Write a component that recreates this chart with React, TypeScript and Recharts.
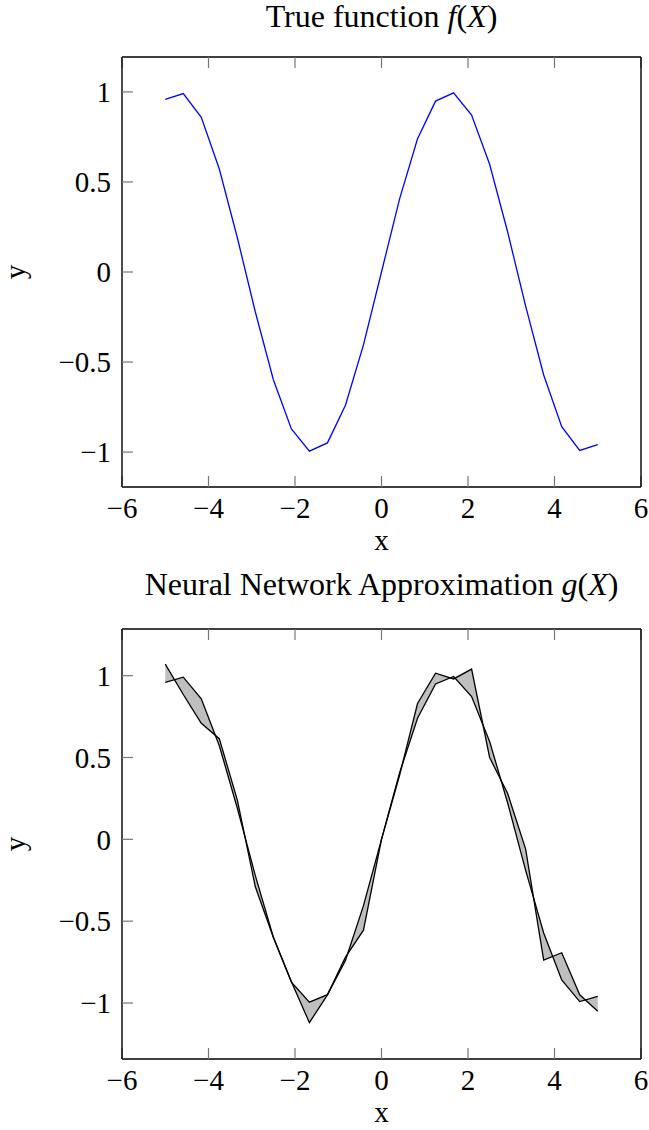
import React from 'react';
import { ComposedChart, Line, Area, XAxis, YAxis, Label } from 'recharts';

const xValues = [
  -5, -4.583, -4.167, -3.75, -3.333, -2.917, -2.5, -2.083, -1.667, -1.25, -0.833, -0.417, 0,
  0.417, 0.833, 1.25, 1.667, 2.083, 2.5, 2.917, 3.333, 3.75, 4.167, 4.583, 5,
];
const trueValues = [
  0.959, 0.991, 0.859, 0.572, 0.19, -0.222, -0.598, -0.872, -0.995, -0.949, -0.74, -0.405, 0,
  0.405, 0.74, 0.949, 0.995, 0.872, 0.598, 0.222, -0.19, -0.572, -0.859, -0.991, -0.959,
];
const nnValues = [
  1.07, 0.885, 0.709, 0.615, 0.24, -0.29, -0.6, -0.87, -1.12, -0.95, -0.72, -0.555, 0,
  0.39, 0.83, 1.015, 0.98, 1.04, 0.5, 0.28, -0.06, -0.738, -0.693, -0.95, -1.05,
];
const xTicks = [-6, -4, -2, 0, 2, 4, 6];
const yTicks = [-1, -0.5, 0, 0.5, 1];

const data = xValues.map((x, i) => ({ x, f: trueValues[i], g: nnValues[i] }));

const FONT = '"Liberation Serif", "DejaVu Serif", serif';
const fmt = (v: number) => String(v).replace('-', '\u2212');
const blank = () => '';
const tickStyle = { fontSize: 29, fill: '#000', fontFamily: FONT };
// pgfplots-style ticks: short, grey, pointing into the plot
const tickLine = { stroke: '#777', strokeWidth: 1.2 };
const frame = { stroke: '#000', strokeWidth: 1.4 };

interface PlotProps {
  top: number;
  plotTop: number;
  xLabelOffset: number;
  yDomain: [number, number];
  children: React.ReactNode;
}

const Plot: React.FC<PlotProps> = ({ top, plotTop, xLabelOffset, yDomain, children }) => (
  <div style={{ position: 'absolute', left: 0, top }}>
    <ComposedChart
      width={649}
      height={565}
      data={data}
      margin={{ top: plotTop - 1, right: 7, left: 0, bottom: 0 }}
    >
      <XAxis
        xAxisId="b"
        dataKey="x"
        type="number"
        domain={[-6, 6]}
        ticks={xTicks}
        tickFormatter={fmt}
        tick={tickStyle}
        tickSize={-11}
        tickMargin={21}
        tickLine={tickLine}
        axisLine={frame}
        height={565 - plotTop - 430}
        interval={0}
      >
        <Label
          value="x"
          position="insideBottom"
          offset={xLabelOffset}
          style={{ fontSize: 29, fill: '#000', fontFamily: FONT }}
        />
      </XAxis>
      <XAxis
        xAxisId="t"
        orientation="top"
        dataKey="x"
        type="number"
        domain={[-6, 6]}
        ticks={xTicks}
        tickFormatter={blank}
        tickSize={-11}
        tickLine={tickLine}
        axisLine={frame}
        height={1}
        interval={0}
      />
      <YAxis
        yAxisId="l"
        type="number"
        domain={yDomain}
        ticks={yTicks}
        tickFormatter={fmt}
        tick={tickStyle}
        tickSize={-11}
        tickMargin={22}
        tickLine={tickLine}
        axisLine={frame}
        width={122}
        interval={0}
      >
        <Label
          value="y"
          position="insideLeft"
          angle={-90}
          offset={15}
          style={{ textAnchor: 'middle', fontSize: 29, fill: '#000', fontFamily: FONT }}
        />
      </YAxis>
      <YAxis
        yAxisId="r"
        orientation="right"
        type="number"
        domain={yDomain}
        ticks={yTicks}
        tickFormatter={blank}
        tickSize={-11}
        tickLine={tickLine}
        axisLine={frame}
        width={1}
        interval={0}
      />
      {children}
    </ComposedChart>
  </div>
);

const titleStyle: React.CSSProperties = {
  position: 'absolute',
  left: 122,
  width: 519,
  textAlign: 'center',
  fontFamily: FONT,
  fontSize: 32,
  lineHeight: '26px',
  color: '#000',
  whiteSpace: 'nowrap',
};

export default function App() {
  return (
    <div style={{ position: 'absolute', left: 0, top: 0, width: 649, height: 1130, background: '#fff' }}>
      <Plot top={0} plotTop={57} xLabelOffset={15} yDomain={[-1.194, 1.194]}>
        <Line
          xAxisId="b"
          yAxisId="l"
          dataKey="f"
          type="linear"
          stroke="#0000ff"
          strokeWidth={1.3}
          dot={false}
          isAnimationActive={false}
        />
      </Plot>
      <Plot top={565} plotTop={64} xLabelOffset={8} yDomain={[-1.342, 1.285]}>
        {/* grey band between the true function and the approximation */}
        <Area
          xAxisId="b"
          yAxisId="l"
          dataKey={(d: { f: number; g: number }) => [d.f, d.g]}
          type="linear"
          stroke="none"
          fill="#bfbfbf"
          fillOpacity={1}
          isAnimationActive={false}
        />
        <Line
          xAxisId="b"
          yAxisId="l"
          dataKey="f"
          type="linear"
          stroke="#000"
          strokeWidth={1.3}
          dot={false}
          isAnimationActive={false}
        />
        <Line
          xAxisId="b"
          yAxisId="l"
          dataKey="g"
          type="linear"
          stroke="#000"
          strokeWidth={1.3}
          dot={false}
          isAnimationActive={false}
        />
      </Plot>
      <div style={{ ...titleStyle, top: 3 }}>
        True function <i>f</i>(<i>X</i>)
      </div>
      <div style={{ ...titleStyle, top: 571 }}>
        Neural Network Approximation <i>g</i>(<i>X</i>)
      </div>
    </div>
  );
}
